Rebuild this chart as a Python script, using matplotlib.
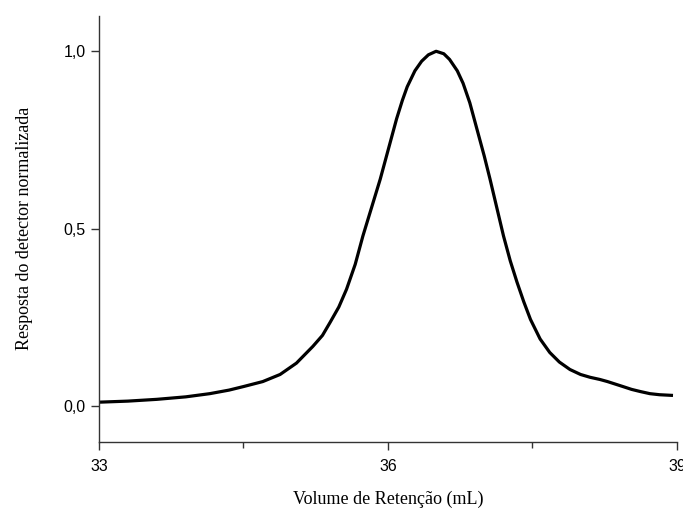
import matplotlib
matplotlib.use("Agg")
from matplotlib import pyplot as plt

# retention volume (mL) and normalized detector response
volume = [33.0, 33.3, 33.6, 33.9, 34.15, 34.35, 34.5, 34.7, 34.88, 35.05,
          35.22, 35.32, 35.4, 35.49, 35.57, 35.66, 35.74, 35.83, 35.92, 36.0,
          36.09, 36.15, 36.2, 36.28, 36.35, 36.42, 36.5, 36.58, 36.64, 36.72,
          36.78, 36.85, 36.93, 37.0, 37.06, 37.13, 37.2, 37.27, 37.34, 37.41,
          37.48, 37.58, 37.68, 37.78, 37.89, 38.0, 38.1, 38.2, 38.28, 38.36,
          38.44, 38.53, 38.62, 38.72, 38.82, 38.96]
response = [0.012, 0.015, 0.02, 0.027, 0.036, 0.046, 0.056, 0.07, 0.09, 0.122,
            0.169, 0.2, 0.237, 0.28, 0.33, 0.40, 0.48, 0.56, 0.64, 0.72,
            0.81, 0.862, 0.9, 0.945, 0.972, 0.99, 1.0, 0.993, 0.977, 0.945,
            0.91, 0.855, 0.775, 0.705, 0.64, 0.56, 0.48, 0.41, 0.35, 0.295,
            0.245, 0.19, 0.152, 0.125, 0.104, 0.09, 0.082, 0.076, 0.07, 0.063,
            0.056, 0.048, 0.042, 0.036, 0.033, 0.031]

xticks = [33, 36, 39]
xtick_labels = ["33", "36", "39"]
xminor = [34.5, 37.5]
yticks = [0.0, 0.5, 1.0]
ytick_labels = ["0,0", "0,5", "1,0"]

fig = plt.figure(figsize=(6.83, 5.08), dpi=100)
ax = fig.add_axes([0.145, 0.13, 0.846, 0.839])

ax.plot(volume, response, color="black", linewidth=2.3,
        solid_capstyle="butt", solid_joinstyle="round")

ax.set_xlim(33, 39)
ax.set_ylim(-0.1, 1.1)
ax.set_xticks(xticks)
ax.set_xticklabels(xtick_labels, fontfamily="Liberation Sans", fontsize=11.5)
ax.set_xticks(xminor, minor=True)
ax.set_yticks(yticks)
ax.set_yticklabels(ytick_labels, fontfamily="Liberation Sans", fontsize=11.5)

ax.tick_params(which="major", direction="out", length=6, width=1, color="#333333")
ax.tick_params(which="minor", direction="out", length=4, width=1, color="#333333")
ax.tick_params(axis="x", which="major", pad=6)

for side in ["top", "right"]:
    ax.spines[side].set_visible(False)
for side in ["left", "bottom"]:
    ax.spines[side].set_color("#333333")
    ax.spines[side].set_linewidth(1)

ax.set_xlabel("Volume de Retenção (mL)", fontfamily="Liberation Serif",
              fontsize=13, labelpad=12)
ax.set_ylabel("Resposta do detector normalizada", fontfamily="Liberation Serif",
              fontsize=13, labelpad=22)

fig.savefig("out.png", dpi=100)
